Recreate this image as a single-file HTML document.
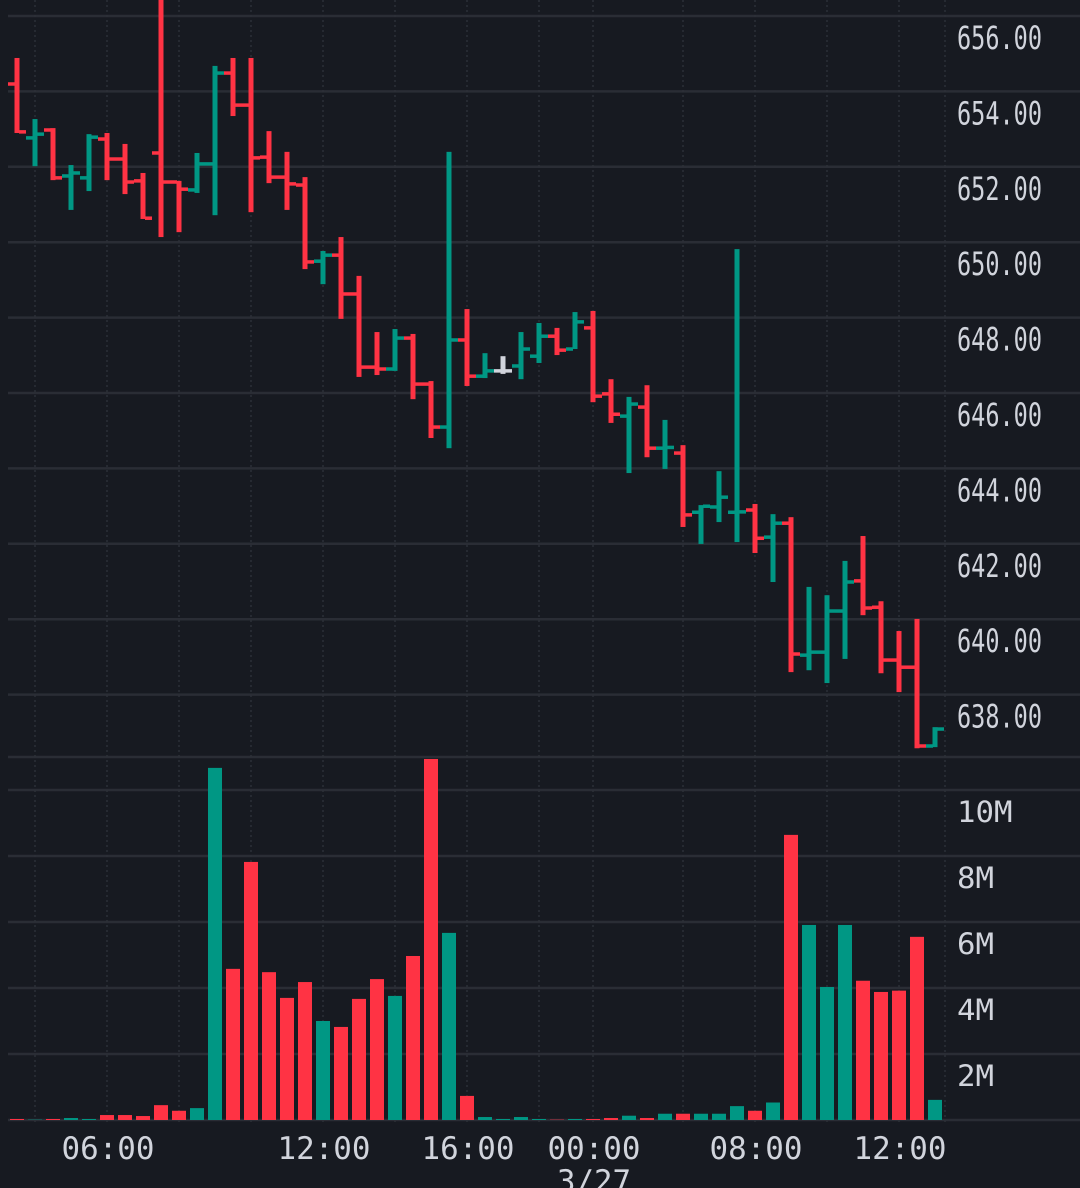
<!DOCTYPE html>
<html><head><meta charset="utf-8"><style>
html,body{margin:0;padding:0;background:#171a21;}
svg{display:block;}
text{font-family:"DejaVu Sans Mono","Liberation Mono",monospace;fill:#d1d4dc;}
</style></head><body>
<svg id="chart" width="1080" height="1188" viewBox="0 0 1080 1188" xmlns="http://www.w3.org/2000/svg">
<rect x="0" y="0" width="1080" height="1188" fill="#171a21"/>
<g id="grid"></g>
<g id="vols"></g>
<g id="bars"></g>
<g id="axes"></g>
</svg>
<script>
const opens  = [654.78,653.35,653.56,652.34,652.29,653.32,652.79,652.21,652.95,652.18,651.97,652.66,655.07,654.22,652.84,652.31,652.10,650.08,650.24,649.21,647.27,647.22,648.04,646.82,645.68,647.99,647.03,647.17,647.30,647.56,648.09,647.75,648.31,646.56,645.97,646.21,645.12,644.99,643.42,643.56,643.42,643.48,642.76,643.13,639.63,639.71,640.80,641.60,640.90,639.50,639.31,637.22];
const highs  = [655.47,653.85,653.61,652.63,653.45,653.48,653.19,652.42,657.20,652.21,652.95,655.26,655.47,655.47,653.53,652.98,652.31,650.35,650.72,649.69,648.20,648.28,648.15,646.90,652.98,648.81,647.64,647.56,648.20,648.44,648.31,648.73,648.76,646.95,646.48,646.79,645.87,645.20,643.61,644.51,650.40,643.64,643.37,643.29,641.44,641.22,642.13,642.79,641.06,640.27,640.59,637.72];
const lows   = [653.48,652.60,652.23,651.44,651.94,652.23,651.86,651.20,650.72,650.85,651.89,651.30,653.93,651.38,652.15,651.44,649.87,649.47,648.55,647.01,647.06,647.17,646.42,645.39,645.12,646.77,646.98,647.09,646.95,647.38,647.59,647.75,646.34,645.79,644.46,644.88,644.57,643.03,642.58,643.16,642.63,642.34,641.57,639.18,639.23,638.89,639.53,640.69,639.15,638.65,637.16,637.19];
const closes = [653.51,653.45,652.29,652.42,653.37,652.79,652.18,651.22,652.18,651.99,652.66,655.07,654.22,652.82,652.31,652.13,650.06,650.24,649.21,647.27,647.22,648.04,646.82,645.68,647.99,647.03,647.17,647.17,647.75,648.09,647.72,648.47,646.50,646.02,646.29,645.12,645.14,643.35,643.58,643.82,643.43,642.73,643.13,639.66,639.71,640.80,641.57,640.88,639.50,639.31,637.22,637.67];
const volumes = [0.03,0.01,0.03,0.06,0.03,0.15,0.15,0.12,0.45,0.28,0.36,10.67,4.58,7.82,4.48,3.70,4.18,3.00,2.82,3.67,4.27,3.76,4.97,10.94,5.67,0.73,0.09,0.03,0.09,0.03,0.01,0.03,0.03,0.06,0.13,0.06,0.19,0.19,0.19,0.19,0.42,0.28,0.53,8.64,5.91,4.03,5.91,4.22,3.88,3.92,5.55,0.61];
const priceTicks = [656,654,652,650,648,646,644,642,640,638];
const volumeTicks = [2,4,6,8,10];
const volumeTickLabels = ["2M","4M","6M","8M","10M"];
const timeLabels = ["06:00","12:00","16:00","00:00","08:00","12:00"];
const timeLabelBars = [5,17,25,32,41,49];
const dottedBars = [1,5,9,13,17,21,25,29,32,37,41,45,49];

const NS="http://www.w3.org/2000/svg";
const RED="#ff3344", GREEN="#009784", FLAT="#d1d4dc", GRID="#2a2d35";
function xAt(i){return 17+i*18;}
function yP(p){return 38+(656-p)*37.7;}
function yV(v){return 1120-v*33;}
function mk(tag,attrs,parent){const e=document.createElementNS(NS,tag);for(const k in attrs)e.setAttribute(k,attrs[k]);parent.appendChild(e);return e;}
const grid=document.getElementById('grid'),bars=document.getElementById('bars'),vols=document.getElementById('vols'),axes=document.getElementById('axes');

for(const t of priceTicks){
  const l=mk('line',{x1:8,x2:1080,y1:yP(t)-22,y2:yP(t)-22,stroke:GRID,'stroke-width':2.5},grid);
  
  
  const tx=mk('text',{x:957,y:yP(t)+11,'font-size':32,textLength:85,lengthAdjust:'spacingAndGlyphs'},axes);
  tx.textContent=t.toFixed(2);
  
  
}
for(let k=0;k<volumeTicks.length;k++){
  const v=volumeTicks[k];
  const l=mk('line',{x1:8,x2:1080,y1:yV(v),y2:yV(v),stroke:GRID,'stroke-width':2.5},grid);
  
  
  const tx=mk('text',{x:957,y:yV(v)+32,'font-size':29,textLength:volumeTickLabels[k].length*18.5,lengthAdjust:'spacingAndGlyphs'},axes);
  tx.textContent=volumeTickLabels[k];
  
  
}
const sep=mk('line',{x1:8,x2:1080,y1:757,y2:757,stroke:GRID,'stroke-width':2.5},grid);


const base=mk('line',{x1:8,x2:1080,y1:1120,y2:1120,stroke:GRID,'stroke-width':2.5},grid);


for(const b of dottedBars){
  const l=mk('line',{x1:xAt(b),x2:xAt(b),y1:0,y2:1122,stroke:'#2c3038','stroke-width':1.5,'stroke-dasharray':'2 3'},grid);
  
  
}
const edge=mk('line',{x1:945,x2:945,y1:0,y2:1122,stroke:'#2c3038','stroke-width':1.5,'stroke-dasharray':'2 3'},grid);



for(let i=0;i<opens.length;i++){
  const o=opens[i],h=highs[i],l=lows[i],c=closes[i];
  const col=c>o?GREEN:(c<o?RED:FLAT);
  const x=xAt(i);
  const g=mk('g',{fill:col},bars);
  
  
  mk('rect',{x:x-2.5,y:yP(h),width:5,height:Math.max(2,yP(l)-yP(h))},g);
  mk('rect',{x:x-9,y:yP(o)-1.75,width:7,height:3.5},g);
  mk('rect',{x:x+2,y:yP(c)-1.75,width:7,height:3.5},g);
  const vc=c>=o?GREEN:RED;
  const r=mk('rect',{x:x-7,y:yV(volumes[i]),width:14,height:1120-yV(volumes[i]),fill:vc},vols);
  
  
}
for(let k=0;k<timeLabels.length;k++){
  const tx=mk('text',{x:xAt(timeLabelBars[k])+1,y:1159,'font-size':31,'text-anchor':'middle',textLength:93,lengthAdjust:'spacingAndGlyphs'},axes);
  tx.textContent=timeLabels[k];
  
  
}
const d=mk('text',{x:594,y:1192,'font-size':31,'text-anchor':'middle',textLength:74,lengthAdjust:'spacingAndGlyphs'},axes);
d.textContent="3/27";


</script>
</body></html>
